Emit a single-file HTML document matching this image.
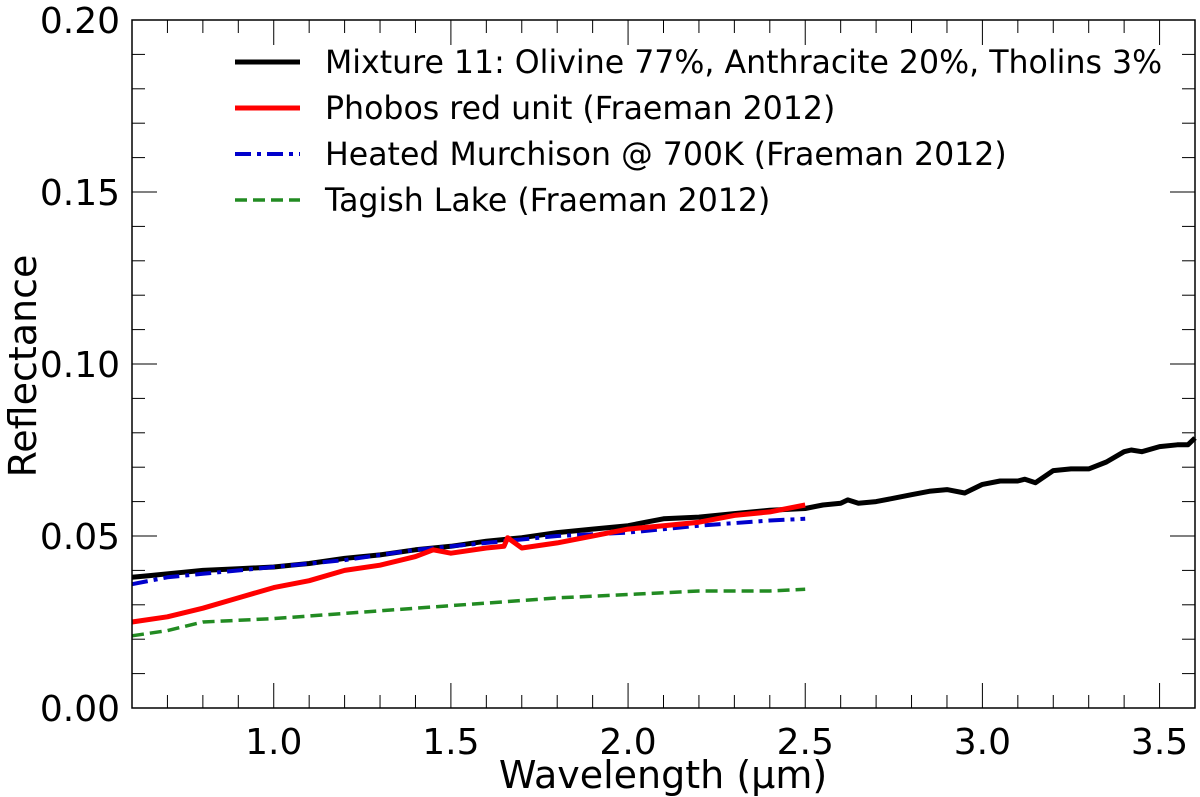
<!DOCTYPE html>
<html><head><meta charset="utf-8"><style>
html,body{margin:0;padding:0;background:#fff;}
svg{display:block;font-family:"DejaVu Sans","Liberation Sans",sans-serif;}
</style></head><body>
<svg id="chart" width="1200" height="797"></svg>
<script>
const mixX=[0.6,0.65,0.7,0.8,0.9,1.0,1.05,1.1,1.2,1.3,1.4,1.5,1.6,1.7,1.8,1.9,2.0,2.05,2.1,2.2,2.3,2.4,2.5,2.55,2.6,2.62,2.65,2.7,2.75,2.8,2.85,2.9,2.95,3.0,3.05,3.1,3.12,3.15,3.2,3.25,3.3,3.35,3.4,3.42,3.45,3.5,3.55,3.58,3.6];
const mixY=[0.038,0.0385,0.039,0.040,0.0405,0.041,0.0415,0.042,0.0435,0.0445,0.046,0.047,0.0485,0.0495,0.051,0.052,0.053,0.054,0.055,0.0555,0.0565,0.0575,0.058,0.059,0.0595,0.0605,0.0595,0.060,0.061,0.062,0.063,0.0635,0.0625,0.065,0.066,0.066,0.0665,0.0655,0.069,0.0695,0.0695,0.0715,0.0745,0.075,0.0745,0.076,0.0765,0.0765,0.0785];
const redX=[0.6,0.7,0.8,0.9,1.0,1.1,1.2,1.3,1.4,1.45,1.5,1.6,1.65,1.66,1.7,1.8,1.9,2.0,2.1,2.2,2.3,2.4,2.5];
const redY=[0.025,0.0265,0.029,0.032,0.035,0.037,0.040,0.0415,0.044,0.046,0.045,0.0465,0.047,0.0495,0.0465,0.048,0.050,0.052,0.053,0.054,0.056,0.057,0.059];
const blueX=[0.6,0.7,0.8,1.0,1.2,1.4,1.6,1.8,2.0,2.2,2.4,2.5];
const blueY=[0.036,0.038,0.039,0.041,0.043,0.046,0.048,0.050,0.051,0.053,0.0545,0.055];
const greenX=[0.6,0.7,0.8,1.0,1.2,1.4,1.6,1.8,2.0,2.2,2.4,2.5];
const greenY=[0.021,0.0225,0.025,0.026,0.0275,0.029,0.0305,0.032,0.033,0.034,0.034,0.0345];
const xTicks=["1.0","1.5","2.0","2.5","3.0","3.5"];
const yTicks=["0.00","0.05","0.10","0.15","0.20"];
const legendLabels=["Mixture 11: Olivine 77%, Anthracite 20%, Tholins 3%","Phobos red unit (Fraeman 2012)","Heated Murchison @ 700K (Fraeman 2012)","Tagish Lake (Fraeman 2012)"];

const L=132,R=1195,T=20,B=708,X0=0.6,X1=3.6,Y0=0,Y1=0.2;
const sx=v=>L+(v-X0)/(X1-X0)*(R-L);
const sy=v=>B-(v-Y0)/(Y1-Y0)*(B-T);
const svg=document.getElementById('chart');
const NS='http://www.w3.org/2000/svg';
function mk(tag,attrs,parent){const e=document.createElementNS(NS,tag);for(const k in attrs)e.setAttribute(k,attrs[k]);(parent||svg).appendChild(e);return e;}

for(let i=6;i<=36;i++){const v=i/10;const x=sx(v);if(x>R+0.5)break;const major=(i%5===0);const len=major?25:13;
 const t=mk('line',{x1:x,x2:x,y1:B,y2:B-len,stroke:'#000','stroke-width':1});
 
 const t2=mk('line',{x1:x,x2:x,y1:T,y2:T+len,stroke:'#000','stroke-width':1});
 }
for(let i=0;i<=20;i++){const v=i/100;const y=sy(v);const major=(i%5===0);const len=major?25:13;
 const t=mk('line',{x1:L,x2:L+len,y1:y,y2:y,stroke:'#000','stroke-width':1});
 
 const t2=mk('line',{x1:R,x2:R-len,y1:y,y2:y,stroke:'#000','stroke-width':1});
 }
xTicks.forEach(s=>{const t=mk('text',{x:sx(parseFloat(s)),y:B+46,'font-size':36,'text-anchor':'middle'});t.textContent=s;
 });
yTicks.forEach(s=>{const t=mk('text',{x:L-12,y:sy(parseFloat(s))+13,'font-size':36,'text-anchor':'end'});t.textContent=s;
 });

function line(xs,ys,color,dash,name,w){const d=xs.map((x,i)=>(i?'L':'M')+sx(x).toFixed(1)+','+sy(ys[i]).toFixed(1)).join('');
 const p=mk('path',{d:d,fill:'none',stroke:color,'stroke-width':w,'stroke-dasharray':dash,'stroke-linejoin':'round'});
 }
line(mixX,mixY,'#000','none','mixture-11-line',5);
line(blueX,blueY,'#0000cc','16,6,4,6','heated-murchison-line',4);
line(greenX,greenY,'#228b22','12,6','tagish-lake-line',3.5);
line(redX,redY,'#ff0000','none','phobos-red-unit-line',5);

const cols=['#000','#ff0000','#0000cc','#228b22'],dashes=['none','none','16,6,4,6','12,6'],ws=[5,5,4,3.5];
legendLabels.forEach((s,i)=>{const y=62+i*46;
 const l=mk('line',{x1:235,x2:300,y1:y,y2:y,stroke:cols[i],'stroke-width':ws[i],'stroke-dasharray':dashes[i]});
 
 const t=mk('text',{x:325,y:y+11,'font-size':31.6});t.textContent=s;
 });

const fr=mk('rect',{x:L,y:T,width:R-L,height:B-T,fill:'none',stroke:'#000','stroke-width':1.5});

const xl=mk('text',{x:663,y:788,'font-size':38,'text-anchor':'middle'});xl.textContent='Wavelength (µm)';

const yl=mk('text',{x:0,y:0,'font-size':38,'text-anchor':'middle',transform:'translate(36,366) rotate(-90)'});yl.textContent='Reflectance';

</script>
</body></html>
